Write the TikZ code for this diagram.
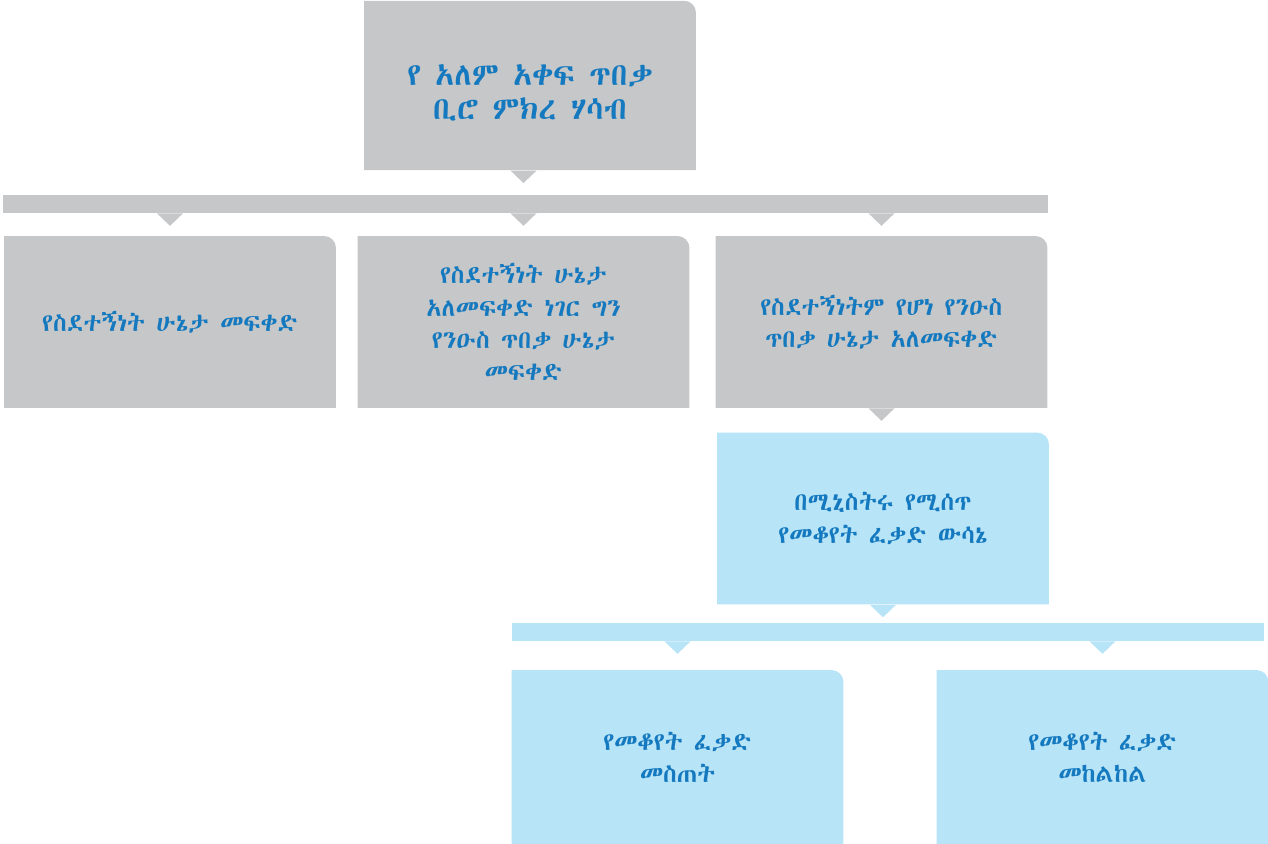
\documentclass[tikz,border=0pt]{standalone}
\usepackage{fontspec}
\IfFontExistsTF{Abyssinica SIL}{\newfontfamily\ethfont{Abyssinica SIL}}{%
 \IfFontExistsTF{Noto Sans Ethiopic}{\newfontfamily\ethfont{Noto Sans Ethiopic}}{%
  \IfFontExistsTF{FreeSerif}{\newfontfamily\ethfont{FreeSerif}}{%
   \newfontfamily\ethfont{DejaVu Sans}}}}
\definecolor{boxgray}{HTML}{C6C7C9}
\definecolor{boxblue}{HTML}{B8E4F8}
\definecolor{txtblue}{HTML}{1479BF}

\newcommand\tipdown[2]{\fill[#2] ([xshift=-0.26cm]#1) -- ([xshift=0.26cm]#1) -- ([yshift=-0.25cm]#1) -- cycle;}

\begin{document}
\begin{tikzpicture}[x=0.02cm,y=-0.02cm,
  box/.style={minimum width=6.64cm, minimum height=3.44cm, inner sep=0pt, align=center,
    text=txtblue, font=\ethfont\fontsize{14.2}{18.3}\selectfont,
    path picture={
      \fill[#1] (path picture bounding box.south west) -- (path picture bounding box.north west)
        -- ([xshift=-0.24cm]path picture bounding box.north east)
        arc[start angle=90, end angle=0, radius=0.24cm]
        -- (path picture bounding box.south east) -- cycle;
    }},
  topbox/.style={box=#1, font=\ethfont\fontsize{17.9}{19.8}\selectfont, minimum height=3.39cm},
  bar/.style={fill=#1, inner sep=0pt, minimum height=0.36cm},
  ]
\useasboundingbox (0,0) rectangle (1268,844);
%\draw[step=50,gray,very thin] (0,0) grid (1268,844);

% gray level
\node[topbox=boxgray] (office) at (530,85.5) {\raisebox{-0.2cm}[\height][\depth]{\begin{tabular}{@{}c@{}}የ አለም አቀፍ ጥበቃ\\ቢሮ ምክረ ሃሳብ\end{tabular}}};
\node[bar=boxgray, minimum width=20.9cm] (graybar) at (525.5,204) {};
\node[box=boxgray] (grant) at (170,322) {የስደተኝነት ሁኔታ መፍቀድ};
\node[box=boxgray] (subsid) at (523.5,322) {የስደተኝነት ሁኔታ\\አለመፍቀድ ነገር ግን\\የንዑስ ጥበቃ ሁኔታ\\መፍቀድ};
\node[box=boxgray] (reject) at (881.5,322) {የስደተኝነትም የሆነ የንዑስ\\ጥበቃ ሁኔታ አለመፍቀድ};

% blue level
\node[box=boxblue] (minister) at (883,518.5) {በሚኒስትሩ የሚሰጥ\\የመቆየት ፈቃድ ውሳኔ};
\node[bar=boxblue, minimum width=15.04cm] (bluebar) at (888,632) {};
\node[box=boxblue, minimum height=3.48cm] (permit) at (677.5,757) {የመቆየት ፈቃድ\\መስጠት};
\node[box=boxblue, minimum height=3.48cm] (refuse) at (1102.5,757) {የመቆየት ፈቃድ\\መከልከል};

\coordinate (t0) at (graybar.north -| subsid);
\coordinate (t1) at (graybar.south -| grant);
\coordinate (t2) at (graybar.south -| subsid);
\coordinate (t3) at (graybar.south -| reject);
\coordinate (t4) at (bluebar.south -| permit);
\coordinate (t5) at (bluebar.south -| refuse);

\tipdown{office.south -| t0}{boxgray}
\tipdown{t1}{boxgray}
\tipdown{t2}{boxgray}
\tipdown{t3}{boxgray}
\tipdown{reject.south}{boxgray}
\tipdown{minister.south}{boxblue}
\tipdown{t4}{boxblue}
\tipdown{t5}{boxblue}

\end{tikzpicture}
\end{document}
